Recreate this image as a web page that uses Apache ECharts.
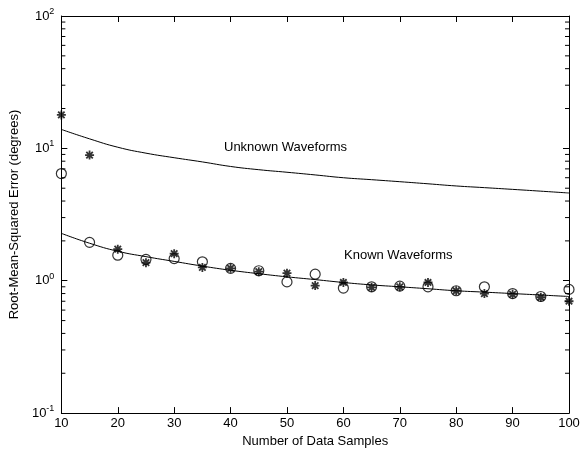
<!DOCTYPE html>
<html>
<head>
<meta charset="utf-8">
<script src="https://cdn.jsdelivr.net/npm/echarts@6/dist/echarts.min.js"></script>
<style>html,body{margin:0;padding:0;background:#fff}#c{width:585px;height:453px}</style>
</head>
<body>
<div id="c"></div>
<script>
var samples = [10,15,20,25,30,35,40,45,50,55,60,65,70,75,80,85,90,95,100];
var unknownBound = [13.9,11.8,10.2,9.2,8.5,7.9,7.3,6.9,6.6,6.3,6.0,5.8,5.6,5.4,5.2,5.05,4.9,4.75,4.6];
var knownBound = [2.28,1.92,1.67,1.52,1.40,1.29,1.20,1.13,1.07,1.02,0.97,0.93,0.90,0.87,0.84,0.82,0.80,0.78,0.76];
var circleValues = [6.45,1.95,1.56,1.45,1.47,1.39,1.24,1.19,0.98,1.12,0.88,0.90,0.91,0.90,0.84,0.90,0.80,0.76,0.86];
var starValues = [17.9,8.9,1.73,1.37,1.60,1.26,1.24,1.17,1.14,0.92,0.97,0.89,0.90,0.97,0.84,0.80,0.79,0.75,0.70];
var minorTickValues = [];
[0.1,1,10].forEach(function(d){ for (var k=2;k<=9;k++) minorTickValues.push(+(k*d).toPrecision(3)); });

function pairs(xs, ys){ return xs.map(function(x,i){ return [x, ys[i]]; }); }

var font = 'Liberation Sans, Arial, Helvetica, sans-serif';
var chart = echarts.init(document.getElementById('c'), null, {renderer:'canvas'});
var starPath = 'path://M0,-5L0,5M-5,0L5,0M-3.6,-3.6L3.6,3.6M-3.6,3.6L3.6,-3.6';

function minorTicks(side){
  return {
    type:'custom', xAxisIndex:0, yAxisIndex:0, silent:true, z:5,
    data: minorTickValues.map(function(v){ return [side, v]; }),
    renderItem: function(params, api){
      var p = api.coord([api.value(0), api.value(1)]);
      var dx = side === 10 ? 4 : -4;
      return {type:'line', shape:{x1:p[0], y1:p[1], x2:p[0]+dx, y2:p[1]}, style:{stroke:'#000', lineWidth:1}};
    }
  };
}

var option = {
  backgroundColor:'#fff',
  animation:false,
  grid:{left:55, right:16, top:16, bottom:34, show:false},
  xAxis:[{
    type:'value', min:10, max:100, interval:10, position:'bottom',
    name:'Number of Data Samples', nameLocation:'middle', nameGap:19,
    nameTextStyle:{fontFamily:font, fontSize:13, color:'#000'},
    axisLine:{lineStyle:{color:'#000', width:1}},
    axisTick:{inside:true, length:6, lineStyle:{color:'#000'}},
    axisLabel:{fontFamily:font, fontSize:13, color:'#000', margin:4},
    splitLine:{show:false}
  },{
    type:'value', min:10, max:100, interval:10, position:'top',
    axisLine:{lineStyle:{color:'#000', width:1}},
    axisTick:{inside:true, length:6, lineStyle:{color:'#000'}},
    axisLabel:{show:false}, splitLine:{show:false}
  }],
  yAxis:[{
    type:'log', logBase:10, min:0.1, max:100, position:'left',
    name:'Root-Mean-Squared Error (degrees)', nameLocation:'middle', nameGap:30,
    nameTextStyle:{fontFamily:font, fontSize:13, color:'#000'},
    axisLine:{lineStyle:{color:'#000', width:1}},
    axisTick:{inside:true, length:6, lineStyle:{color:'#000'}},
    axisLabel:{
      fontFamily:font, color:'#000', margin:7,
      formatter:function(v){ var e = Math.round(Math.log10(v)); return '{b|10}{s|' + e + '}'; },
      rich:{b:{fontFamily:font, fontSize:13, color:'#000'}, s:{fontFamily:font, fontSize:9, color:'#000', padding:[0,0,9,0]}}
    },
    splitLine:{show:false}
  },{
    type:'log', logBase:10, min:0.1, max:100, position:'right',
    axisLine:{lineStyle:{color:'#000', width:1}},
    axisTick:{inside:true, length:6, lineStyle:{color:'#000'}},
    axisLabel:{show:false}, splitLine:{show:false}
  }],
  series:[
    {type:'line', data:pairs(samples, unknownBound), smooth:true, symbol:'none', lineStyle:{color:'#000', width:1}},
    {type:'line', data:pairs(samples, knownBound), smooth:true, symbol:'none', lineStyle:{color:'#000', width:1}},
    {type:'scatter', data:pairs(samples, circleValues), symbol:'circle', symbolSize:10,
      itemStyle:{color:'rgba(0,0,0,0)', borderColor:'#000', borderWidth:1.2}},
    {type:'scatter', data:pairs(samples, starValues), symbol:starPath, symbolSize:9,
      itemStyle:{color:'rgba(0,0,0,0)', borderColor:'#000', borderWidth:1.8}},
    minorTicks(10), minorTicks(100)
  ],
  graphic:[
    {type:'text', left:224, top:141, style:{text:'Unknown Waveforms', fontFamily:font, fontSize:13, fill:'#000'}},
    {type:'text', left:344, top:249, style:{text:'Known Waveforms', fontFamily:font, fontSize:13, fill:'#000'}}
  ]
};
chart.setOption(option);
</script>
</body>
</html>
